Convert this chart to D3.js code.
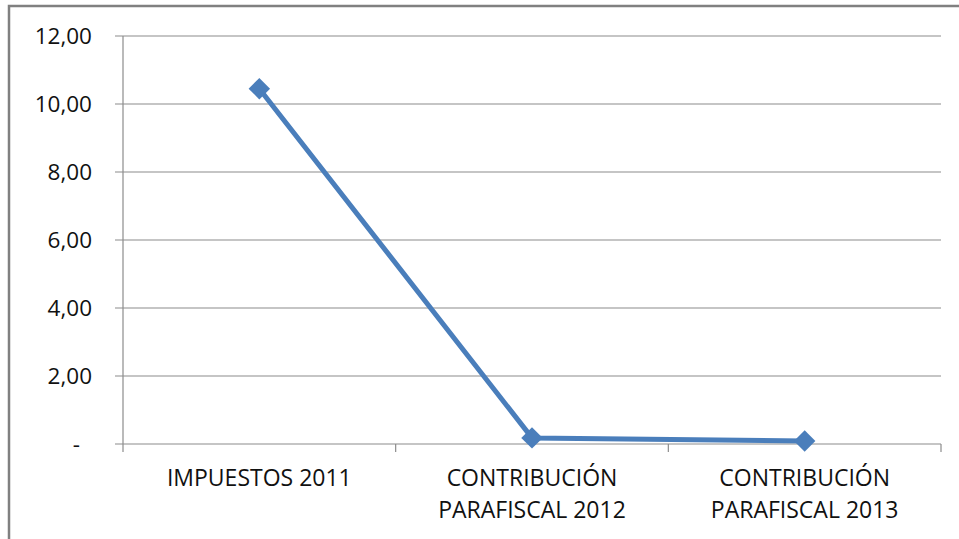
<!DOCTYPE html>
<html><head><meta charset="utf-8">
<script src="https://cdn.jsdelivr.net/npm/d3@7"></script>
<style>body{margin:0;background:#fff;overflow:hidden}svg{display:block}</style>
</head><body>
<script>
const categories = [["IMPUESTOS 2011"], ["CONTRIBUCIÓN", "PARAFISCAL 2012"], ["CONTRIBUCIÓN", "PARAFISCAL 2013"]];
const values = [10.45, 0.18, 0.09];
const yTicks = [0, 2, 4, 6, 8, 10, 12];
const yTickLabels = ["-", "2,00", "4,00", "6,00", "8,00", "10,00", "12,00"];

(function(){
const W = 959, H = 539;
const svg = d3.select("body").append("svg").attr("width", W).attr("height", H);
const font = "'Open Sans', sans-serif";

svg.append("rect").attr("x", 9).attr("y", 6).attr("width", W + 10).attr("height", H + 10)
  .attr("fill", "#fff").attr("stroke", "#808080").attr("stroke-width", 2.5);

const pl = 123, pr = 941, pt = 36, pb = 444;
const x = d3.scaleBand().domain(d3.range(categories.length)).range([pl, pr]);
const y = d3.scaleLinear().domain([0, 12]).range([pb, pt]);

svg.append("g").selectAll("line").data(yTicks).join("line")
  .attr("x1", pl - 8).attr("x2", pr)
  .attr("y1", d => y(d)).attr("y2", d => y(d))
  .attr("stroke", "#8c8c8c").attr("stroke-width", 1.2);

svg.append("line").attr("x1", pl).attr("x2", pl).attr("y1", pt).attr("y2", pb)
  .attr("stroke", "#8c8c8c").attr("stroke-width", 1.2);

const xb = [pl, ...categories.map((c, i) => x(i) + x.bandwidth())];
svg.append("g").selectAll("line").data(xb).join("line")
  .attr("x1", d => d).attr("x2", d => d).attr("y1", pb).attr("y2", pb + 8)
  .attr("stroke", "#8c8c8c").attr("stroke-width", 1.2);

svg.append("g").selectAll("text").data(yTicks).join("text")
  .attr("x", 92).attr("y", d => y(d)).attr("dy", "0.36em")
  .attr("dx", (d, i) => yTickLabels[i] === "-" ? -12 : 0)
  .attr("text-anchor", "end").attr("font-family", font).attr("font-size", 22.5)
  .attr("fill", "#111").text((d, i) => yTickLabels[i]);

const xl = svg.append("g").selectAll("text").data(categories).join("text")
  .attr("text-anchor", "middle").attr("font-family", font).attr("font-size", 23)
  .attr("fill", "#111");
xl.each(function(lines, i) {
  d3.select(this).selectAll("tspan").data(lines).join("tspan")
    .attr("x", x(i) + x.bandwidth() / 2)
    .attr("y", (d, j) => 486 + j * 32)
    .text(d => d);
});

const pts = values.map((v, i) => [x(i) + x.bandwidth() / 2, y(v)]);
svg.append("path").attr("d", d3.line()(pts)).attr("fill", "none")
  .attr("stroke", "#4A7EBB").attr("stroke-width", 5).attr("stroke-linejoin", "round");

svg.append("g").selectAll("path").data(pts).join("path")
  .attr("d", d3.symbol().type(d3.symbolSquare).size(230))
  .attr("transform", d => `translate(${d[0]},${d[1]}) rotate(45)`)
  .attr("fill", "#4A7EBB");
})();
</script>
</body></html>
